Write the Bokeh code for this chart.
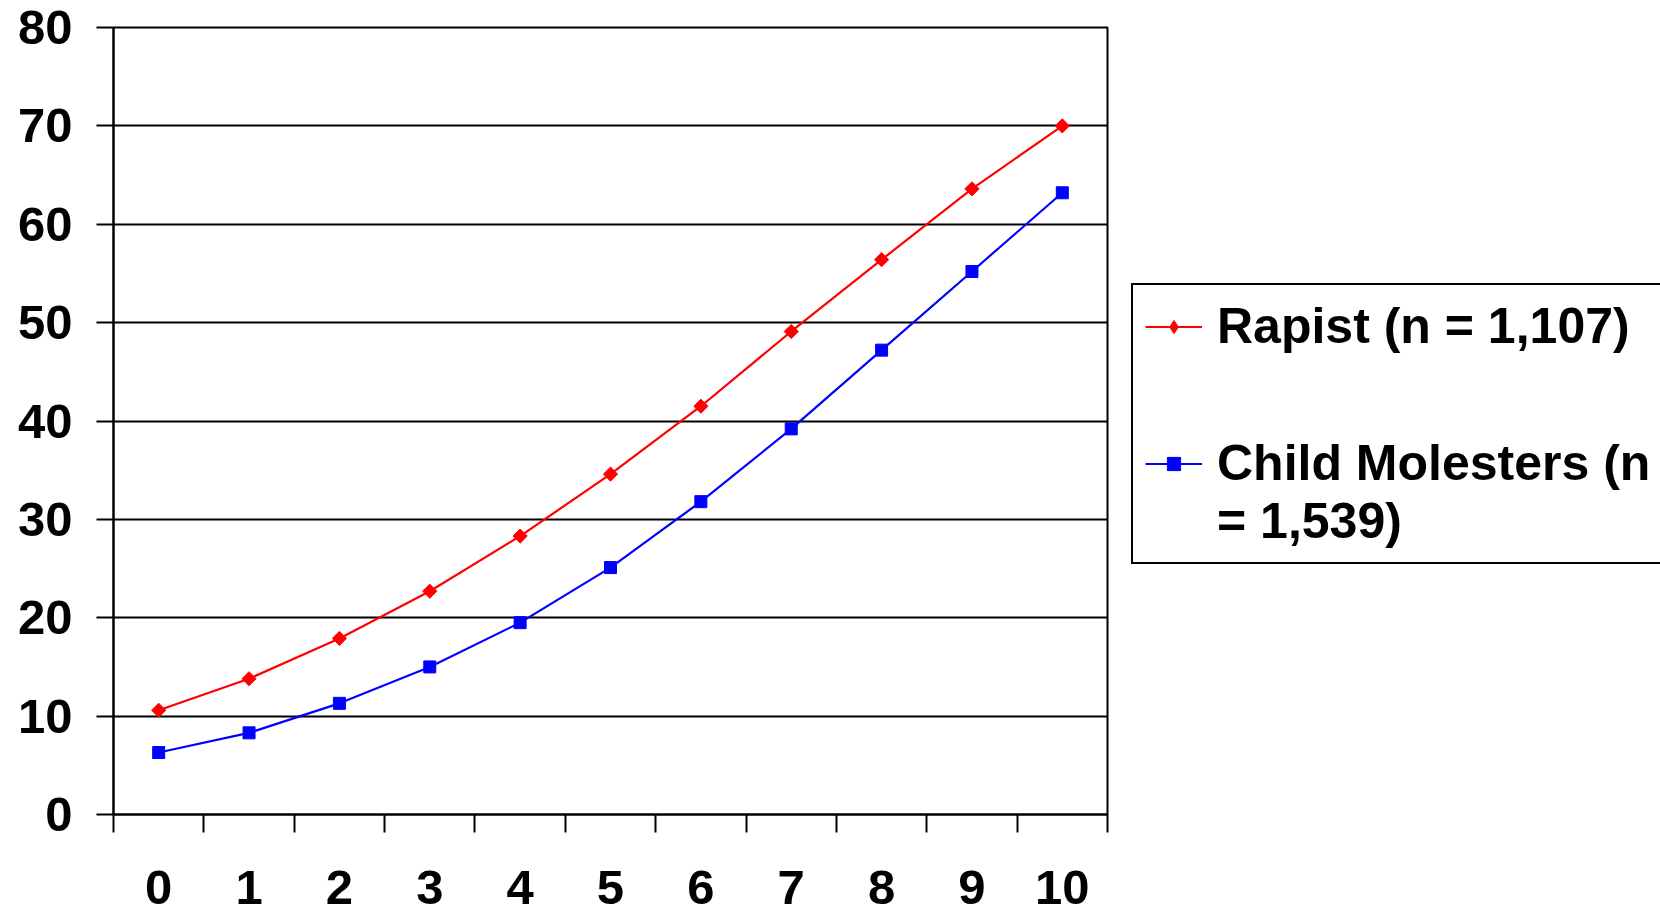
from bokeh.plotting import figure
from bokeh.layouts import row
from bokeh.models import Range1d, FixedTicker, Legend, LegendItem
from bokeh.embed import file_html
from bokeh.resources import INLINE

# ---- data ----
years = ["0", "1", "2", "3", "4", "5", "6", "7", "8", "9", "10"]
rapist = [10.6, 13.8, 17.9, 22.7, 28.3, 34.6, 41.5, 49.1, 56.4, 63.6, 70.0]
molesters = [6.3, 8.3, 11.3, 15.0, 19.5, 25.1, 31.8, 39.2, 47.2, 55.2, 63.2]
y_ticks = [0, 10, 20, 30, 40, 50, 60, 70, 80]
rapist_label = "Rapist (n = 1,107)"
# leading blank line keeps the legend marker level with the first text line
molester_label = " \nChild Molesters (n\n= 1,539)"

RED = "#FF0000"
BLUE = "#0000FF"
FONT = "Liberation Sans"

x_centers = [i + 0.5 for i in range(len(years))]
x_bounds = list(range(len(years) + 1))

# ---- main chart ----
p = figure(width=1120, height=916, output_backend="svg", toolbar_location=None,
           x_range=Range1d(0, len(years)), y_range=Range1d(y_ticks[0], y_ticks[-1]),
           min_border_left=113, min_border_right=13, min_border_top=27,
           min_border_bottom=102)
p.background_fill_color = "white"
p.border_fill_color = "white"
p.outline_line_color = "black"
p.outline_line_width = 2

p.xgrid.grid_line_color = None
p.ygrid.grid_line_color = "black"
p.ygrid.grid_line_width = 2
p.ygrid.ticker = FixedTicker(ticks=y_ticks)

ya = p.yaxis[0]
ya.ticker = FixedTicker(ticks=y_ticks, minor_ticks=[])
ya.axis_line_color = "black"
ya.axis_line_width = 2
ya.major_tick_in = 0
ya.major_tick_out = 17
ya.major_tick_line_width = 2
ya.major_tick_line_color = "black"
ya.minor_tick_line_color = None
ya.major_label_standoff = 24
ya.major_label_text_font = FONT
ya.major_label_text_font_style = "bold"
ya.major_label_text_font_size = "49px"
ya.major_label_text_color = "black"

xa = p.xaxis[0]
xa.ticker = FixedTicker(ticks=x_centers, minor_ticks=x_bounds)
xa.major_label_overrides = {xc: lab for xc, lab in zip(x_centers, years)}
xa.axis_line_color = "black"
xa.axis_line_width = 2
xa.major_tick_line_color = None
xa.major_tick_in = 0
xa.major_tick_out = 18
xa.minor_tick_in = 0
xa.minor_tick_out = 18
xa.minor_tick_line_width = 2
xa.minor_tick_line_color = "black"
xa.major_label_standoff = 38
xa.major_label_text_font = FONT
xa.major_label_text_font_style = "bold"
xa.major_label_text_font_size = "49px"
xa.major_label_text_color = "black"

p.line(x_centers, rapist, line_color=RED, line_width=2.2)
p.scatter(x_centers, rapist, marker="square", angle=0.785398, size=10,
          fill_color=RED, line_color=RED)
p.line(x_centers, molesters, line_color=BLUE, line_width=2.2)
p.scatter(x_centers, molesters, marker="square", size=12,
          fill_color=BLUE, line_color=BLUE)

# ---- legend panel (clipped by the window edge, as in the original) ----
q = figure(width=540, height=916, output_backend="svg", toolbar_location=None,
           x_range=Range1d(0, 1), y_range=Range1d(0, 1),
           min_border_left=0, min_border_right=0, min_border_top=0,
           min_border_bottom=0)
q.axis.visible = False
q.grid.grid_line_color = None
q.outline_line_color = None
q.background_fill_color = "white"
q.border_fill_color = "white"

nan = float("nan")
lr_line = q.line(x=[nan], y=[nan], line_color=RED, line_width=2.2)
lr_pts = q.scatter(x=[nan], y=[nan], marker="diamond", size=12,
                   fill_color=RED, line_color=RED)
lm_line = q.line(x=[nan], y=[nan], line_color=BLUE, line_width=2.2)
lm_pts = q.scatter(x=[nan], y=[nan], marker="square", size=12,
                   fill_color=BLUE, line_color=BLUE)

legend = Legend(items=[LegendItem(label=rapist_label, renderers=[lr_line, lr_pts]),
                       LegendItem(label=molester_label, renderers=[lm_line, lm_pts])],
                location=(11, 250))
legend.border_line_color = "black"
legend.border_line_width = 2
legend.border_line_alpha = 1
legend.background_fill_color = "white"
legend.background_fill_alpha = 1
legend.label_text_font = FONT
legend.label_text_font_style = "bold"
legend.label_text_font_size = "50px"
legend.label_text_color = "black"
legend.glyph_width = 57
legend.glyph_height = 33
legend.label_standoff = 15
legend.padding = 12
legend.spacing = 21
legend.margin = 0
q.add_layout(legend)

layout = row(p, q, spacing=0)
open("out.html", "w").write(file_html(layout, INLINE))
